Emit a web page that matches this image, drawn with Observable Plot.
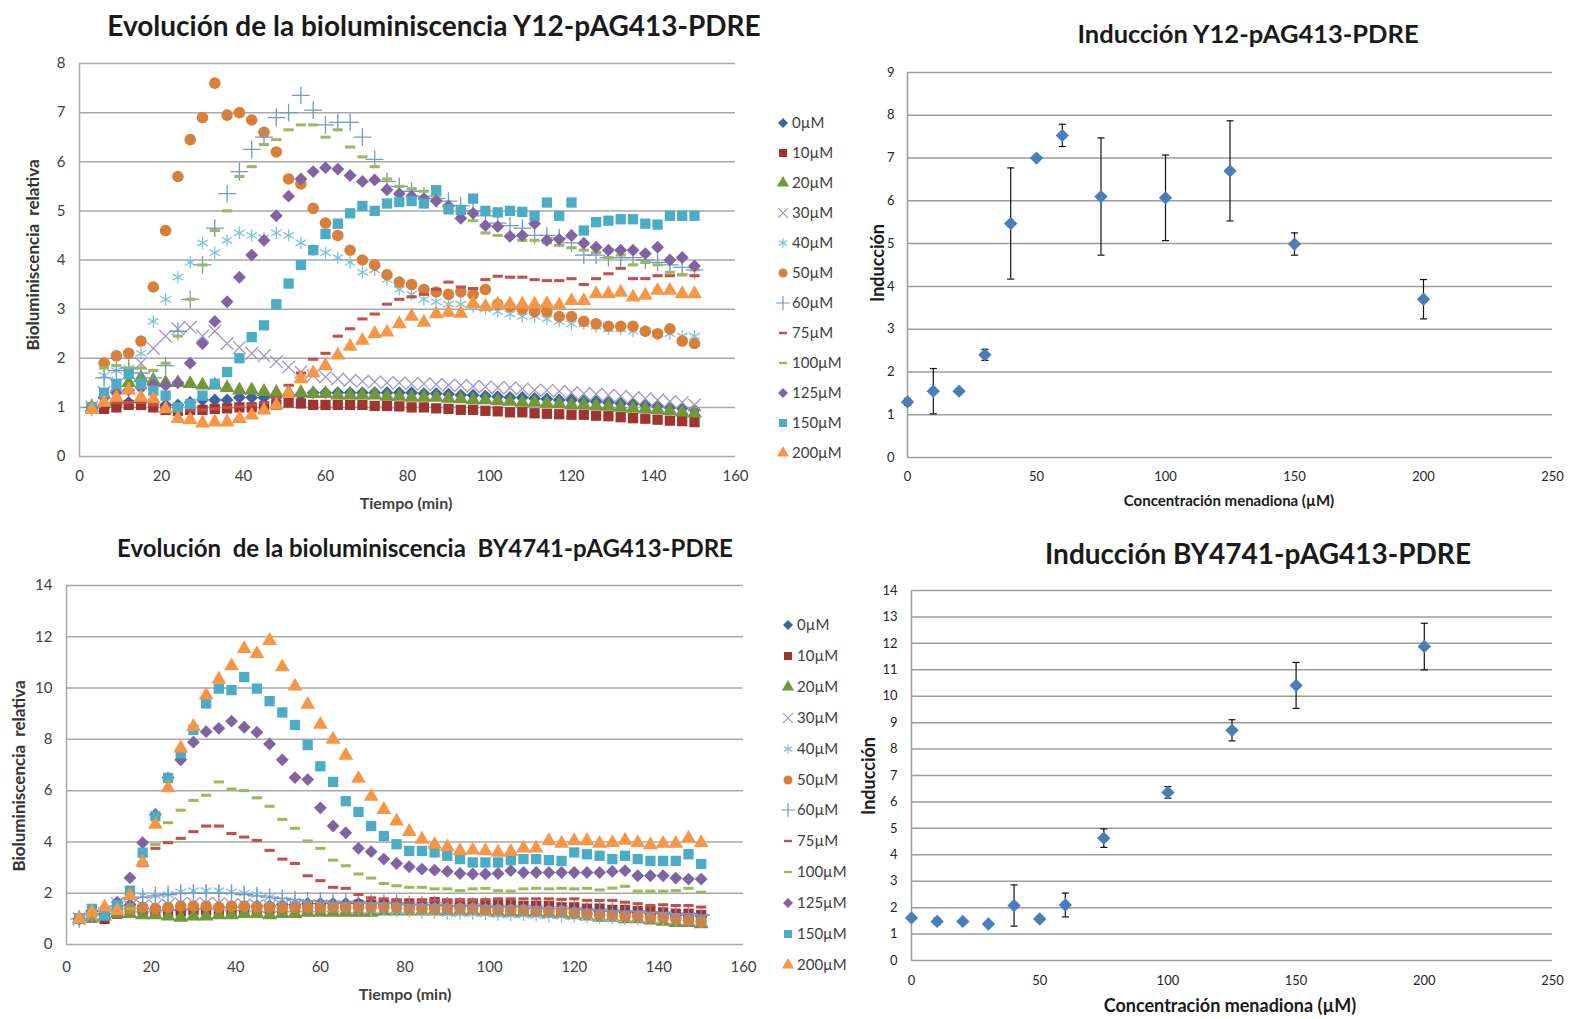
<!DOCTYPE html>
<html><head><meta charset="utf-8">
<script src="https://cdn.jsdelivr.net/npm/d3@7"></script>
<script src="https://cdn.jsdelivr.net/npm/@observablehq/plot@0.6"></script>
<style>
body{margin:0;background:#fff;width:1573px;height:1019px;position:relative;overflow:hidden;font-family:Lato,"Open Sans",sans-serif;}
.abs{position:absolute;}
.ctr{position:absolute;transform:translate(-50%,-50%);white-space:nowrap;font-weight:bold;color:#1a1a1a;}
.rot{position:absolute;transform:translate(-50%,-50%) rotate(-90deg);white-space:nowrap;font-weight:bold;color:#1a1a1a;}
.leg{position:absolute;font-size:15px;color:#404040;white-space:nowrap;}
.leg svg{position:absolute;overflow:visible;}
</style></head><body>
<div id="tl" class="abs" style="left:0;top:50px"></div>
<div id="bl" class="abs" style="left:0;top:570px"></div>
<div id="tr" class="abs" style="left:860px;top:60px"></div>
<div id="br" class="abs" style="left:860px;top:575px"></div>

<div class="ctr" style="left:434px;top:25px;font-size:28px">Evolución de la bioluminiscencia Y12-pAG413-PDRE</div>
<div class="ctr" style="left:425px;top:547px;font-size:24px">Evolución&nbsp; de la bioluminiscencia&nbsp; BY4741-pAG413-PDRE</div>
<div class="ctr" style="left:1248px;top:33px;font-size:25.5px">Inducción Y12-pAG413-PDRE</div>
<div class="ctr" style="left:1258px;top:553px;font-size:28px">Inducción BY4741-pAG413-PDRE</div>
<div class="ctr" style="left:406px;top:502px;font-size:16px;color:#404040">Tiempo (min)</div>
<div class="ctr" style="left:405px;top:993px;font-size:16px;color:#404040">Tiempo (min)</div>
<div class="rot" style="left:32px;top:255px;font-size:17px;color:#333">Bioluminiscencia&nbsp; relativa</div>
<div class="rot" style="left:18px;top:776px;font-size:17px;color:#333">Bioluminiscencia&nbsp; relativa</div>
<div class="ctr" style="left:1229px;top:500px;font-size:15px">Concentración menadiona (µM)</div>
<div class="ctr" style="left:1230px;top:1005px;font-size:18px">Concentración menadiona (µM)</div>
<div class="rot" style="left:877px;top:263px;font-size:18px">Inducción</div>
<div class="rot" style="left:868px;top:776px;font-size:18px">Inducción</div>
<div id="legtl"></div>
<div id="legbl"></div>

<script>
// ---------- DATA ----------
const time = [3,6,9,12,15,18,21,24,27,30,33,36,39,42,45,48,51,54,57,60,63,66,69,72,75,78,81,84,87,90,93,96,99,102,105,108,111,114,117,120,123,126,129,132,135,138,141,144,147,150];
const seriesLabels = ["0µM","10µM","20µM","30µM","40µM","50µM","60µM","75µM","100µM","125µM","150µM","200µM"];

// Y12-pAG413-PDRE
const y12_0   = [1.0,1.0,1.05,1.1,1.1,1.1,1.05,1.05,1.1,1.15, 1.15,1.15,1.2,1.2,1.2,1.2,1.25,1.25,1.3,1.3, 1.3,1.3,1.3,1.3,1.3,1.3,1.3,1.28,1.28,1.27, 1.25,1.25,1.23,1.22,1.2,1.2,1.18,1.17,1.15,1.15, 1.13,1.12,1.1,1.08,1.07,1.05,1.03,1.0,0.98,0.95];
const y12_10  = [1.0,0.97,1.0,1.05,1.05,1.0,0.95,0.93,0.95,0.95, 0.97,0.98,1.0,1.0,1.02,1.05,1.1,1.08,1.05,1.05, 1.05,1.05,1.05,1.03,1.03,1.02,1.0,1.0,0.98,0.97, 0.95,0.95,0.93,0.92,0.9,0.9,0.88,0.87,0.86,0.85, 0.85,0.83,0.82,0.8,0.78,0.77,0.75,0.73,0.72,0.7];
const y12_20  = [1.0,1.1,1.15,1.5,1.6,1.55,1.5,1.5,1.48,1.45, 1.45,1.4,1.35,1.35,1.32,1.3,1.3,1.3,1.28,1.28, 1.25,1.25,1.25,1.25,1.22,1.22,1.2,1.2,1.2,1.18, 1.17,1.15,1.15,1.13,1.12,1.1,1.1,1.08,1.07,1.05, 1.05,1.03,1.02,1.0,0.98,0.97,0.95,0.93,0.9,0.88];
const y12_30  = [1.0,1.3,1.45,1.7,1.9,2.2,2.45,2.6,2.63,2.45, 2.55,2.3,2.22,2.1,2.05,1.93,1.82,1.72,1.65,1.62, 1.58,1.55,1.53,1.52,1.5,1.5,1.48,1.48,1.47,1.45, 1.45,1.43,1.42,1.4,1.4,1.38,1.35,1.35,1.33,1.3, 1.28,1.27,1.25,1.23,1.2,1.18,1.15,1.12,1.1,1.05];
const y12_40  = [1.0,1.65,1.75,1.8,2.1,2.75,3.2,3.65,3.95,4.35, 4.15,4.4,4.55,4.5,4.45,4.55,4.5,4.35,4.2,4.15, 4.05,3.95,3.75,3.8,3.6,3.4,3.3,3.2,3.15,3.1, 3.1,3.05,3.0,2.95,2.9,2.85,2.85,2.8,2.75,2.7, 2.7,2.65,2.6,2.6,2.55,2.55,2.5,2.5,2.45,2.45];
const y12_50  = [1.0,1.9,2.05,2.1,2.35,3.45,4.6,5.7,6.45,6.9, 7.6,6.95,7.0,6.85,6.6,6.2,5.65,5.55,5.05,4.75, 4.5,4.2,4.0,3.9,3.7,3.55,3.5,3.4,3.35,3.3, 3.35,3.3,3.4,3.1,3.05,3.0,2.95,2.95,2.85,2.85, 2.75,2.7,2.65,2.65,2.65,2.55,2.5,2.6,2.35,2.3];
const y12_60  = [1.0,1.6,1.75,1.8,1.7,1.6,1.85,2.55,3.2,3.9, 4.65,5.35,5.8,6.25,6.5,6.9,7.0,7.35,7.05,6.75, 6.8,6.8,6.5,6.05,5.6,5.5,5.4,5.3,5.25,5.2, 5.1,5.0,4.9,4.75,4.7,4.65,4.5,4.5,4.45,4.35, 4.1,4.1,4.05,4.05,4.05,4.0,3.95,3.9,3.85,3.8];
const y12_75  = [1.0,1.05,1.1,1.1,1.1,1.05,1.0,0.95,0.95,0.95, 0.97,1.0,1.02,1.05,1.1,1.2,1.45,1.7,1.98,2.1, 2.45,2.6,2.8,2.9,3.1,3.2,3.25,3.3,3.4,3.55, 3.45,3.42,3.6,3.67,3.65,3.65,3.6,3.58,3.58,3.62, 3.5,3.62,3.72,3.83,3.62,3.62,3.68,3.68,3.7,3.68];
const y12_100 = [1.0,1.8,1.85,1.8,1.8,1.75,1.9,2.45,3.2,3.9, 4.6,5.0,5.7,5.9,6.35,6.45,6.65,6.75,6.75,6.5, 6.65,6.3,6.1,5.9,5.65,5.5,5.45,5.4,5.3,5.1, 5.0,4.8,4.55,4.5,4.5,4.4,4.4,4.35,4.3,4.25, 4.2,4.15,4.05,4.1,3.9,3.95,3.9,3.75,3.7,3.8];
const y12_125 = [1.0,1.2,1.3,1.35,1.4,1.45,1.45,1.5,1.9,2.3, 2.75,3.15,3.65,4.1,4.4,4.9,5.3,5.65,5.8,5.88, 5.85,5.72,5.6,5.63,5.43,5.35,5.3,5.25,5.2,5.1, 4.85,4.95,4.7,4.68,4.48,4.5,4.74,4.4,4.42,4.5, 4.34,4.26,4.2,4.2,4.2,4.13,4.26,4.0,4.05,3.88];
const y12_150 = [1.0,1.3,1.48,1.68,1.48,1.34,1.24,1.0,1.07,1.24, 1.48,1.72,2.0,2.43,2.67,3.1,3.52,3.9,4.2,4.53, 4.74,4.95,5.1,5.0,5.15,5.18,5.2,5.15,5.42,5.03, 5.02,5.25,5.0,4.97,5.0,4.98,4.9,5.17,4.9,5.17, 4.6,4.77,4.8,4.83,4.83,4.74,4.72,4.9,4.9,4.9];
const y12_200 = [0.95,1.1,1.2,1.35,1.2,1.17,0.97,0.77,0.75,0.68, 0.7,0.7,0.77,0.84,0.94,1.04,1.28,1.58,1.7,1.85, 2.06,2.24,2.36,2.5,2.53,2.7,2.85,2.73,2.9,2.93, 2.91,3.11,3.05,3.1,3.1,3.1,3.1,3.11,3.08,3.17, 3.17,3.31,3.31,3.34,3.24,3.28,3.38,3.38,3.31,3.31];

// BY4741-pAG413-PDRE
const by_0   = [1.0,1.2,1.2,1.5,1.55,1.4,1.35,1.35,1.35,1.4, 1.4,1.45,1.45,1.45,1.5,1.5,1.55,1.55,1.6,1.6, 1.6,1.6,1.6,1.6,1.6,1.6,1.55,1.55,1.55,1.5, 1.5,1.5,1.5,1.5,1.45,1.45,1.45,1.4,1.4,1.4, 1.35,1.3,1.3,1.25,1.25,1.2,1.2,1.15,1.15,1.1];
const by_10  = [1.0,1.05,1.0,1.2,1.3,1.35,1.3,1.3,1.3,1.35, 1.35,1.35,1.3,1.35,1.35,1.4,1.4,1.45,1.45,1.5, 1.5,1.5,1.55,1.55,1.6,1.6,1.6,1.6,1.65,1.6, 1.6,1.6,1.55,1.55,1.55,1.5,1.5,1.5,1.45,1.45, 1.4,1.4,1.35,1.35,1.3,1.3,1.25,1.2,1.2,1.15];
const by_20  = [1.0,1.05,1.1,1.2,1.2,1.15,1.15,1.1,1.05,1.1, 1.1,1.15,1.15,1.2,1.2,1.15,1.2,1.2,1.25,1.25, 1.25,1.25,1.25,1.25,1.3,1.3,1.3,1.3,1.3,1.3, 1.3,1.3,1.3,1.25,1.25,1.25,1.25,1.2,1.2,1.15, 1.1,1.05,1.05,1.0,1.0,0.95,0.9,0.85,0.85,0.8];
const by_30  = [1.0,1.1,1.2,1.6,1.5,1.5,1.5,1.55,1.6,1.6, 1.6,1.6,1.55,1.55,1.5,1.5,1.5,1.5,1.5,1.5, 1.5,1.45,1.45,1.45,1.45,1.4,1.4,1.4,1.4,1.4, 1.35,1.35,1.35,1.3,1.3,1.3,1.3,1.25,1.25,1.2, 1.2,1.15,1.15,1.1,1.1,1.05,1.05,1.0,1.0,0.95];
const by_40  = [1.0,1.1,1.2,1.5,1.85,1.9,1.9,1.95,2.05,2.1, 2.1,2.1,2.05,2.0,1.95,1.85,1.75,1.7,1.6,1.55, 1.5,1.45,1.4,1.35,1.35,1.3,1.3,1.25,1.25,1.2, 1.2,1.2,1.18,1.17,1.15,1.15,1.13,1.12,1.1,1.1, 1.08,1.05,1.03,1.0,1.0,0.98,0.97,0.95,0.92,0.9];
const by_50  = [1.0,1.2,1.3,1.4,1.4,1.45,1.4,1.45,1.5,1.5, 1.5,1.45,1.5,1.5,1.45,1.45,1.45,1.45,1.45,1.45, 1.45,1.45,1.45,1.45,1.45,1.45,1.4,1.4,1.4,1.4, 1.4,1.4,1.35,1.35,1.35,1.35,1.3,1.3,1.3,1.25, 1.2,1.15,1.15,1.1,1.1,1.05,1.05,1.0,0.95,0.9];
const by_60  = [1.0,1.2,1.3,1.5,1.8,1.85,1.9,1.95,2.0,2.0, 2.0,2.0,2.0,1.95,1.9,1.85,1.8,1.75,1.7,1.7, 1.65,1.65,1.65,1.6,1.6,1.6,1.55,1.55,1.55,1.5, 1.5,1.5,1.5,1.45,1.45,1.45,1.4,1.4,1.4,1.4, 1.35,1.35,1.3,1.3,1.3,1.25,1.25,1.2,1.2,1.15];
const by_75  = [1.0,1.1,1.0,1.26,1.4,3.07,3.75,3.97,4.14,4.4, 4.62,4.62,4.33,4.19,4.06,3.67,3.33,3.16,2.68,2.49, 2.23,2.19,1.95,1.82,1.78,1.71,1.65,1.7,1.72,1.7, 1.72,1.72,1.75,1.78,1.78,1.78,1.78,1.78,1.76,1.78, 1.72,1.72,1.72,1.65,1.59,1.52,1.55,1.52,1.52,1.46];
const by_100 = [1.0,1.1,1.2,1.3,1.4,3.2,3.9,4.75,5.24,5.62, 5.82,6.34,6.06,6.0,5.72,5.39,4.88,4.53,4.04,3.75, 3.29,3.07,2.75,2.59,2.38,2.29,2.23,2.23,2.17,2.17, 2.1,2.17,2.19,2.1,2.08,2.17,2.19,2.17,2.19,2.17, 2.19,2.13,2.2,2.27,2.08,2.08,2.08,2.1,2.19,2.04];
const by_125 = [1.0,1.3,1.2,1.65,2.6,3.97,5.07,6.5,7.2,7.89, 8.3,8.43,8.71,8.47,8.28,7.82,7.2,6.51,6.43,5.33, 4.62,4.36,3.75,3.62,3.33,3.16,3.03,2.94,2.9,2.85, 2.77,2.75,2.75,2.77,2.88,2.81,2.81,2.81,2.81,2.81, 2.81,2.81,2.85,2.88,2.68,2.68,2.68,2.59,2.55,2.55];
const by_150 = [1.0,1.39,1.13,1.52,2.1,3.58,5.0,6.49,7.46,8.37, 9.4,9.98,9.92,10.43,9.98,9.49,9.05,8.56,7.78,6.95, 6.34,5.59,5.17,4.62,4.23,3.91,3.65,3.65,3.59,3.46, 3.33,3.2,3.2,3.2,3.29,3.33,3.33,3.29,3.26,3.59, 3.52,3.46,3.33,3.46,3.33,3.26,3.26,3.26,3.52,3.14];
const by_200 = [1.0,1.26,1.45,1.32,1.9,3.2,4.68,6.1,7.65,8.5, 9.72,10.34,10.86,11.53,11.34,11.85,10.82,10.07,9.36,8.58, 8.0,7.37,6.47,5.77,5.26,4.81,4.4,4.1,3.9,3.8, 3.65,3.68,3.65,3.59,3.62,3.75,3.75,4.04,3.94,4.04, 4.04,3.94,3.97,4.06,3.97,3.88,3.94,3.94,4.14,3.97];

// Induction (dose response)
const conc   = [0,10,20,30,40,50,60,75,100,125,150,200];
const y12Mean = [1.3,1.55,1.55,2.4,5.47,7.0,7.53,6.1,6.07,6.7,4.99,3.7];
const y12Err  = [0.08,0.53,0.05,0.13,1.3,0.05,0.26,1.37,1.0,1.17,0.26,0.46];
const byMean  = [1.61,1.48,1.48,1.38,2.08,1.57,2.1,4.63,6.36,8.71,10.41,11.88];
const byErr   = [0.03,0.12,0.06,0.08,0.78,0.1,0.45,0.35,0.22,0.4,0.87,0.88];

// Ticks
const timeTicks = [0,20,40,60,80,100,120,140,160];
const y12Ticks = [0,1,2,3,4,5,6,7,8];
const byTicks = [0,2,4,6,8,10,12,14];
const concTicks = [0,50,100,150,200,250];
const indY12Ticks = [0,1,2,3,4,5,6,7,8,9];
const indByTicks = [0,1,2,3,4,5,6,7,8,9,10,11,12,13,14];

// ---------- STYLE ----------
const dash = {draw(ctx, size){ const w = Math.sqrt(size)*0.45, h = Math.max(1.2, w*0.3); ctx.rect(-w,-h,2*w,2*h); }};
const cap = {draw(ctx, size){ const w = Math.sqrt(size)*0.5; ctx.moveTo(-w,0); ctx.lineTo(w,0); }};
const styles = [
  {sym:d3.symbolDiamond2, color:"#3b63a0", stroke:false},
  {sym:d3.symbolSquare,   color:"#a03431", stroke:false},
  {sym:d3.symbolTriangle, color:"#71983b", stroke:false},
  {sym:d3.symbolTimes,    color:"#a595c6", stroke:true},
  {sym:d3.symbolAsterisk, color:"#7fc4da", stroke:true},
  {sym:d3.symbolCircle,   color:"#d8803a", stroke:false},
  {sym:d3.symbolPlus,     color:"#7597cb", stroke:true},
  {sym:dash,              color:"#c0504d", stroke:false},
  {sym:dash,              color:"#9bbb59", stroke:false},
  {sym:d3.symbolDiamond2, color:"#8064a2", stroke:false},
  {sym:d3.symbolSquare,   color:"#4bacc6", stroke:false},
  {sym:d3.symbolTriangle, color:"#f79646", stroke:false}
];
const y12Series = [y12_0,y12_10,y12_20,y12_30,y12_40,y12_50,y12_60,y12_75,y12_100,y12_125,y12_150,y12_200];
const bySeries  = [by_0,by_10,by_20,by_30,by_40,by_50,by_60,by_75,by_100,by_125,by_150,by_200];

function timePanel(values, o){
  const marks = [
    Plot.ruleY(o.yTicks, {stroke:"#a8a8a8", strokeWidth:1.5}),
    Plot.ruleX([0], {stroke:"#a8a8a8", strokeWidth:1.5})
  ];
  values.forEach((vals, k) => {
    const st = styles[k];
    const data = time.map((t,i) => ({t, v: vals[i]}));
    const r = st.sym === dash ? o.r*1.1 : (st.sym === d3.symbolTriangle ? o.r*0.95 : o.r);
    marks.push(Plot.dot(data, st.stroke
      ? {x:"t", y:"v", symbol:st.sym, r, stroke:st.color, fill:"none", strokeWidth:1.3}
      : {x:"t", y:"v", symbol:st.sym, r, fill:st.color, stroke:"none"}));
  });
  return Plot.plot({
    width:o.width, height:o.height,
    marginLeft:o.ml, marginRight:o.mr, marginTop:o.mt, marginBottom:o.mb,
    x:{domain:[0,160], ticks:timeTicks, tickSize:0, tickPadding:o.xpad, label:null},
    y:{domain:o.yDomain, ticks:o.yTicks, tickSize:0, tickPadding:o.ypad, label:null},
    style:{fontFamily:"Lato, 'Open Sans', sans-serif", fontSize:"15px", color:"#404040", background:"transparent"},
    marks
  });
}

function indPanel(means, errs, o){
  const data = conc.map((c,i) => ({c, m: means[i], e: errs[i]}));
  return Plot.plot({
    width:o.width, height:o.height,
    marginLeft:o.ml, marginRight:o.mr, marginTop:o.mt, marginBottom:o.mb,
    x:{domain:[0,250], ticks:concTicks, tickSize:0, tickPadding:o.xpad, label:null},
    y:{domain:o.yDomain, ticks:o.yTicks, tickSize:0, tickPadding:o.ypad, label:null},
    style:{fontFamily:"Lato, 'Open Sans', sans-serif", fontSize:"13px", color:"#262626", background:"transparent"},
    marks:[
      Plot.ruleY(o.yTicks, {stroke:"#9c9c9c", strokeWidth:1.5}),
      Plot.ruleX([0], {stroke:"#9c9c9c", strokeWidth:1.5}),
      Plot.ruleX(data, {x:"c", y1:d => d.m - d.e, y2:d => d.m + d.e, stroke:"#111", strokeWidth:1.2}),
      Plot.dot(data, {x:"c", y:d => d.m + d.e, symbol:cap, r:4, stroke:"#111", strokeWidth:1.2}),
      Plot.dot(data, {x:"c", y:d => d.m - d.e, symbol:cap, r:4, stroke:"#111", strokeWidth:1.2}),
      Plot.dot(data, {x:"c", y:"m", symbol:d3.symbolDiamond2, r:6, fill:"#4a7ebb", stroke:"none"})
    ]
  });
}

document.getElementById("tl").append(timePanel(y12Series, {width:770, height:440, ml:79, mr:35, mt:13, mb:34, xpad:14, ypad:14, yDomain:[0,8], yTicks:y12Ticks, r:5.8}));
document.getElementById("bl").append(timePanel(bySeries, {width:780, height:420, ml:66, mr:37, mt:15, mb:46, xpad:17, ypad:14, yDomain:[0,14], yTicks:byTicks, r:5.8}));
document.getElementById("tr").append(indPanel(y12Mean, y12Err, {width:713, height:430, ml:47, mr:21, mt:12, mb:33, xpad:14, ypad:13, yDomain:[0,9], yTicks:indY12Ticks}));
document.getElementById("br").append(indPanel(byMean, byErr, {width:713, height:420, ml:51, mr:21, mt:15, mb:35, xpad:15, ypad:14, yDomain:[0,14], yTicks:indByTicks}));

// ---------- LEGENDS ----------
function legend(id, y0, dy, mx, tx){
  const host = document.getElementById(id);
  seriesLabels.forEach((lab, k) => {
    const st = styles[k];
    const div = document.createElement("div");
    div.className = "leg";
    div.style.left = mx + "px";
    div.style.top = (y0 + k*dy) + "px";
    const svg = d3.create("svg").attr("width", 12).attr("height", 12)
      .style("left", "-6px").style("top", "-6px");
    const size = st.sym === dash ? 80 : 64;
    const p = svg.append("path").attr("transform", "translate(6,6)").attr("d", d3.symbol(st.sym, size)());
    if (st.stroke) p.attr("fill", "none").attr("stroke", st.color).attr("stroke-width", 1.2);
    else p.attr("fill", st.color);
    div.append(svg.node());
    const span = document.createElement("span");
    span.textContent = lab;
    span.style.position = "absolute";
    span.style.left = (tx - mx) + "px";
    span.style.top = "-10px";
    div.append(span);
    host.append(div);
  });
}
legend("legtl", 123, 30, 783, 792);
legend("legbl", 625, 30.9, 788, 797);
</script>
</body></html>
